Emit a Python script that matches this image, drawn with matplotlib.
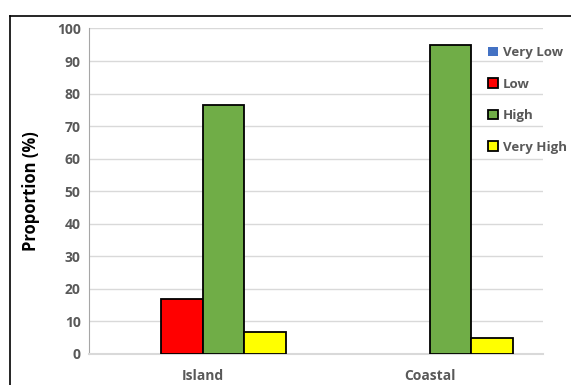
import matplotlib.pyplot as plt
import numpy as np
from matplotlib.lines import Line2D

# data
sites = ['Island', 'Coastal']
series = ['Very Low', 'Low', 'High', 'Very High']
values = {
    'Very Low': [0, 0],
    'Low': [16.8, 0],
    'High': [76.4, 94.9],
    'Very High': [6.6, 4.9],
}
colors = ['#4472C4', '#FF0000', '#70AD47', '#FFFF00']

plt.rcParams['font.family'] = ['Open Sans', 'DejaVu Sans']

fig = plt.figure(figsize=(5.71, 3.85), dpi=100)
ax = fig.add_axes([0.156, 0.081, 0.795, 0.845])

x = np.arange(len(sites))
w = 0.183
for i, name in enumerate(series):
    edge = 'none' if name == 'Very Low' else 'black'
    v = np.array(values[name], dtype=float)
    v[v == 0] = np.nan  # zero bars are not drawn in the original
    ax.bar(x + (i - 1.5) * w, v, width=w, color=colors[i],
           edgecolor=edge, linewidth=1.3, label=name, zorder=3)

ax.set_xlim(-0.5, 1.5)
ax.set_ylim(0, 100)
ax.set_yticks(range(0, 101, 10))
ax.set_xticks(x)
ax.set_xticklabels(sites)
ax.grid(axis='y', color='#D9D9D9', linewidth=1, zorder=0)
for s in ['top', 'right']:
    ax.spines[s].set_visible(False)
ax.spines['left'].set_color('#A6A6A6')
ax.spines['bottom'].set_color('#D9D9D9')
ax.spines['bottom'].set_linewidth(1.5)
ax.tick_params(length=0, labelsize=10, labelcolor='#595959', pad=6)
ax.tick_params(axis='x', pad=11)
for t in ax.get_xticklabels() + ax.get_yticklabels():
    t.set_fontweight('bold')
ax.set_ylabel('Proportion (%)', fontsize=12, fontweight='bold', labelpad=12)

leg = ax.legend(loc='upper left', bbox_to_anchor=(0.868, 0.962), frameon=False,
                fontsize=9.5, handlelength=0.7, handleheight=0.7, handletextpad=0.4,
                labelspacing=1.4, borderaxespad=0)
for t in leg.get_texts():
    t.set_color('#595959')
    t.set_fontweight('bold')

# outer chart border (left and top visible)
fig.add_artist(Line2D([9.5 / 571, 9.5 / 571], [0, 1 - 16 / 385], color='black', linewidth=1.2))
fig.add_artist(Line2D([9.5 / 571, 1], [1 - 16 / 385, 1 - 16 / 385], color='black', linewidth=1.2))

fig.savefig('out.png', dpi=100)
